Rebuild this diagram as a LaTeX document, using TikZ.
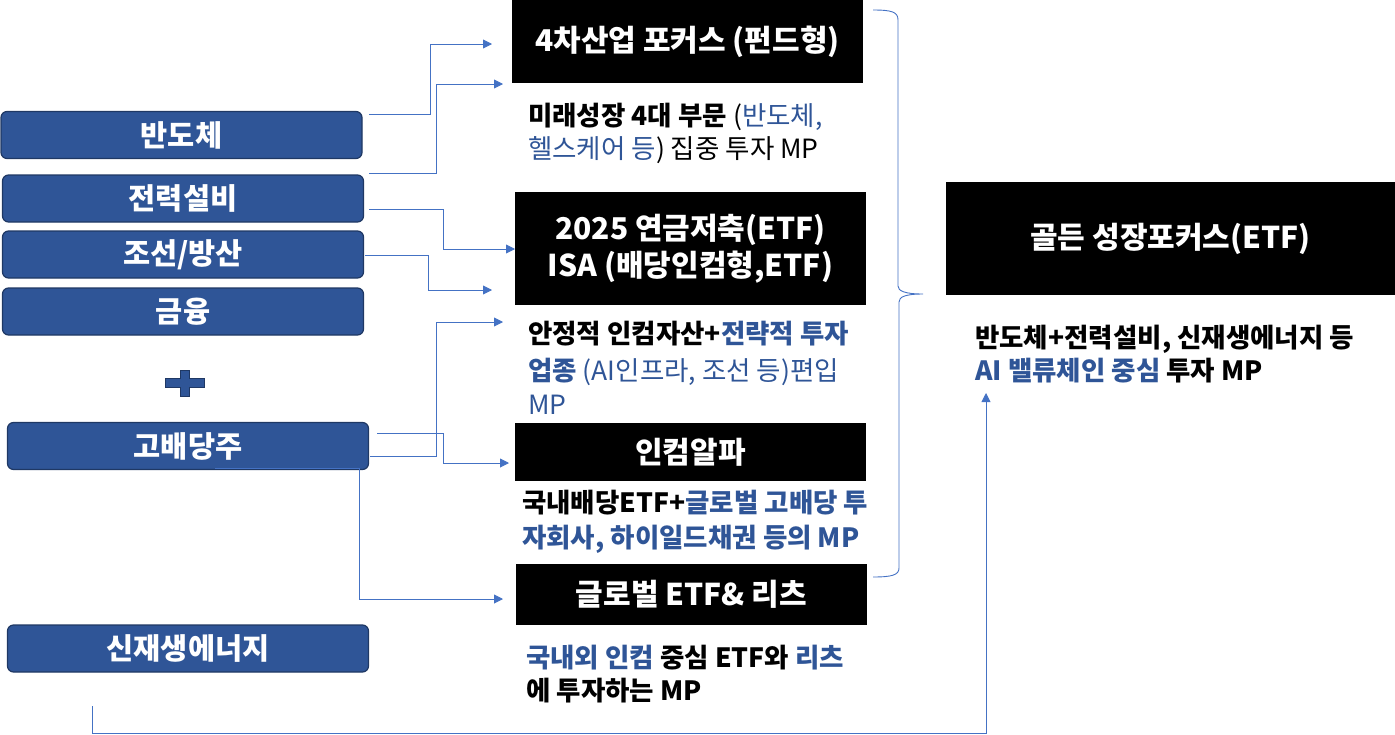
\documentclass[tikz,border=0pt]{standalone}
\usepackage{fontspec}
\setmainfont{Noto Sans CJK KR}
\usetikzlibrary{arrows.meta}
\definecolor{boxblue}{HTML}{2F5597}
\definecolor{boxedge}{HTML}{1F3864}
\definecolor{tb}{HTML}{2F5597}
\definecolor{conncol}{HTML}{4472C4}
\tikzset{
  leftbox/.style={draw=boxedge, line width=1.2pt, fill=boxblue, rounded corners=6pt, text=white, font=\fontsize{29.5}{32}\selectfont\bfseries, minimum width=361pt, minimum height=47pt, inner sep=0pt},
  blackbox/.style={fill=black, text=white, font=\fontsize{30}{37}\selectfont\bfseries, align=center, inner sep=0pt, minimum width=351pt},
  body/.style={anchor=base west, inner sep=0pt, font=\fontsize{26.5}{30}\selectfont},
  conn/.style={draw=conncol, line width=0.9pt},
  arr/.style={conn, -{Triangle[length=9pt,width=9pt]}}
}
\begin{document}
\begin{tikzpicture}[x=1pt,y=-1pt]
\useasboundingbox (0,0) rectangle (1395,734);
% left boxes
\node[leftbox] (l1) at (181.5,135) {반도체};
\node[leftbox] (l2) at (183,198.5) {전력설비};
\node[leftbox] (l3) at (183,254.5) {조선/방산};
\node[leftbox] (l4) at (183,311.5) {금융};
\node[leftbox] (l5) at (188,446) {고배당주};
\node[leftbox] (l6) at (188,648.5) {신재생에너지};
% plus sign
\fill[boxblue, draw=boxedge, line width=0.8pt] (165,378.5) -- (180,378.5) -- (180,370) -- (189.5,370) -- (189.5,378.5) -- (204,378.5) -- (204,387) -- (189.5,387) -- (189.5,396) -- (180,396) -- (180,387) -- (165,387) -- cycle;
% black boxes
\node[blackbox, minimum height=83pt] (b1) at (687.5,41.5) {4차산업 포커스 (펀드형)};
\node[blackbox, minimum height=113pt] (b2) at (690.5,248.5) {2025 연금저축(ETF)\\ISA (배당인컴형,ETF)};
\node[blackbox, minimum height=58pt] (b3) at (690.5,452) {인컴알파};
\node[blackbox, minimum height=61pt] (b4) at (691.5,594.5) {글로벌 ETF\& 리츠};
\node[blackbox, minimum width=449pt, minimum height=113pt] (b5) at (1170.5,238.5) {골든 성장포커스(ETF)};
% body texts
\node[body] (t1a) at (528,125) {{\bfseries 미래성장 4대 부문} (\textcolor{tb}{반도체,}};
\node[body] (t1b) at (528,158) {\textcolor{tb}{헬스케어 등}) 집중 투자 MP};
\node[body] (t2a) at (528,343) {\bfseries 안정적 인컴자산+\textcolor{tb}{전략적 투자}};
\node[body] (t2b) at (528,380) {\color{tb}{\bfseries 업종} (AI인프라, 조선 등)편입};
\node[body] (t2c) at (528,414) {\color{tb}MP};
\node[body] (t3a) at (522,512) {\bfseries 국내배당ETF+\textcolor{tb}{글로벌 고배당 투}};
\node[body] (t3b) at (522,547) {\bfseries\color{tb}자회사, 하이일드채권 등의 MP};
\node[body] (t4a) at (526,667) {\bfseries \textcolor{tb}{국내외 인컴} 중심 ETF와 \textcolor{tb}{리츠}};
\node[body] (t4b) at (526,700) {\bfseries 에 투자하는 MP};
\node[body] (t5a) at (975,347) {\bfseries 반도체+전력설비, 신재생에너지 등};
\node[body] (t5b) at (975,380) {\bfseries \textcolor{tb}{AI 밸류체인 중심} 투자 MP};
% connector endpoints
\coordinate (s1) at (369,114);  \coordinate (e1) at (492,44);
\coordinate (s2) at (369,173);  \coordinate (e2) at (503,84);
\coordinate (s3) at (369,209);  \coordinate (e3) at (515,249);
\coordinate (s4) at (365,255);  \coordinate (e4) at (492,290);
\coordinate (s5) at (370,456);  \coordinate (e5) at (503,322);
\coordinate (s6) at (377,433);  \coordinate (e6) at (509,463);
\coordinate (s7) at (215,468);  \coordinate (e7) at (503,599);
\coordinate (s8) at (92,706);   \coordinate (k8) at (986,733); \coordinate (e8) at (986,393);
\draw[arr] (s1) -- ++(61,0) |- (e1);
\draw[arr] (s2) -- ++(67,0) |- (e2);
\draw[arr] (s3) -- ++(74,0) |- (e3);
\draw[arr] (s4) -- ++(63,0) |- (e4);
\draw[arr] (s5) -- ++(66,0) |- (e5);
\draw[arr] (s6) -- ++(66,0) |- (e6);
\draw[arr] (s7) -- ++(144,0) |- (e7);
\draw[arr] (s8) |- (k8) -- (e8);
% brace
\draw[conn] (873,10) .. controls (892,10) and (898,12) .. (898,20) -- (898,286) .. controls (898,291) and (905,294) .. (923,294) .. controls (905,294) and (899,297) .. (899,302) -- (899,568) .. controls (899,575) and (892,577) .. (873,577);
\end{tikzpicture}
\end{document}
